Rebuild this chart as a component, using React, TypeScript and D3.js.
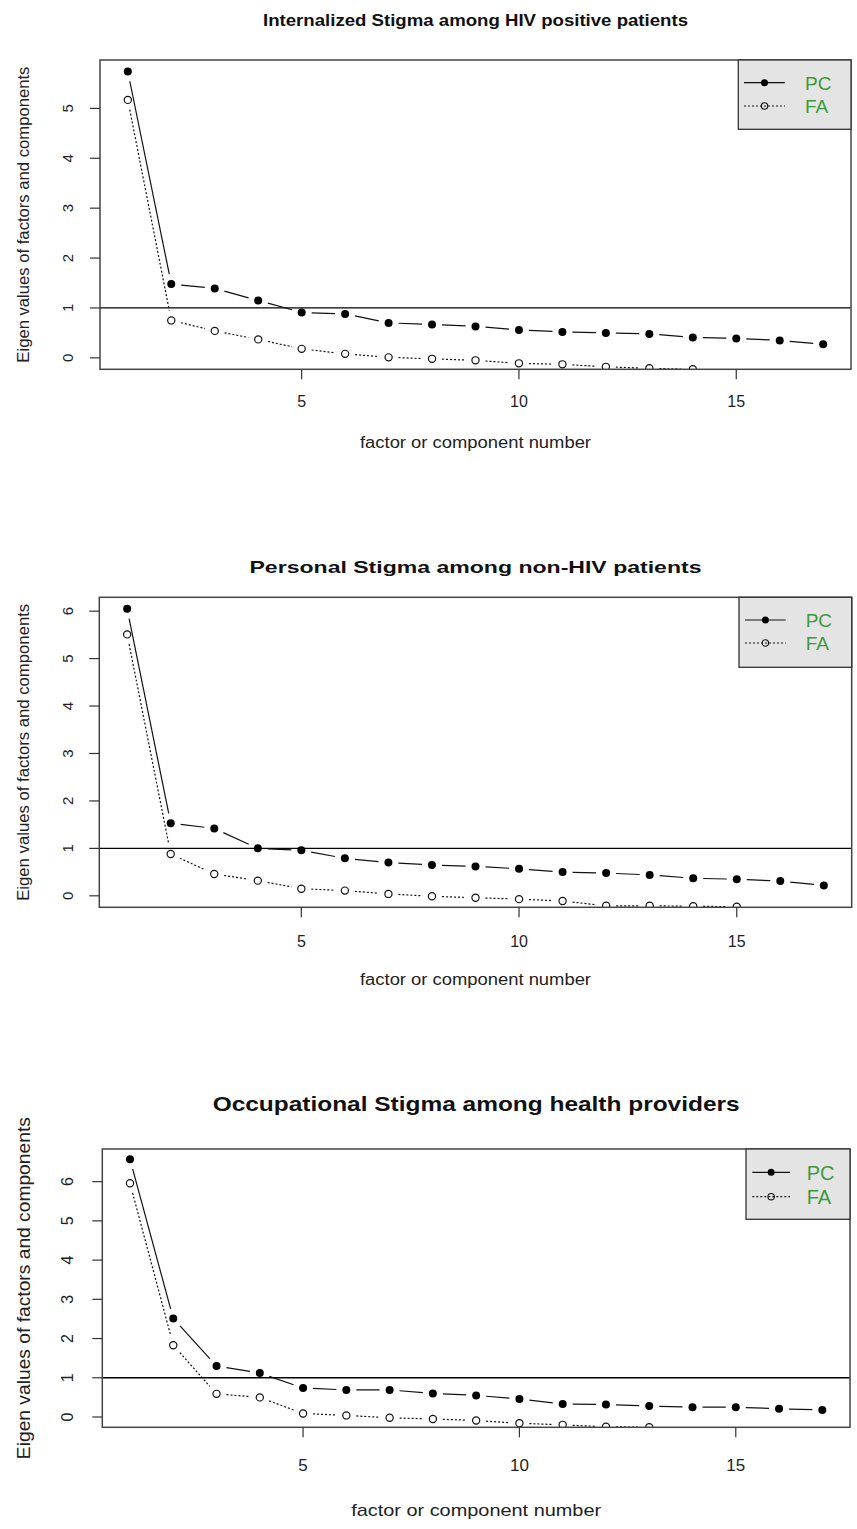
import React from "react";
import * as d3 from "d3";

// Component / factor index shared by all three scree plots
const componentNumbers = [1, 2, 3, 4, 5, 6, 7, 8, 9, 10, 11, 12, 13, 14, 15, 16, 17];
const xTicks = [5, 10, 15];

const xAxisLabel = "factor or component number";
const yAxisLabel = "Eigen values of factors and components";
const legendLabels = ["PC", "FA"];
const eigenCutoff = 1;

// Internalized stigma (HIV positive patients)
const internalizedTitle = "Internalized Stigma among HIV positive patients";
const internalizedPC = [5.74, 1.48, 1.39, 1.15, 0.91, 0.88, 0.7, 0.67, 0.63, 0.56, 0.52, 0.5, 0.48, 0.41, 0.39, 0.35, 0.27];
const internalizedFA = [5.17, 0.75, 0.54, 0.37, 0.18, 0.08, 0.01, -0.02, -0.05, -0.11, -0.13, -0.18, -0.21, -0.23];
const internalizedYTicks = [0, 1, 2, 3, 4, 5];

// Personal stigma (non-HIV patients)
const personalTitle = "Personal Stigma among non-HIV patients";
const personalPC = [6.05, 1.53, 1.42, 1.0, 0.96, 0.79, 0.7, 0.65, 0.62, 0.57, 0.5, 0.48, 0.44, 0.37, 0.35, 0.31, 0.22];
const personalFA = [5.51, 0.88, 0.46, 0.32, 0.15, 0.11, 0.04, -0.01, -0.04, -0.07, -0.11, -0.21, -0.21, -0.22, -0.23];
const personalYTicks = [0, 1, 2, 3, 4, 5, 6];

// Occupational stigma (health providers)
const occupationalTitle = "Occupational Stigma among health providers";
const occupationalPC = [6.57, 2.51, 1.3, 1.12, 0.74, 0.69, 0.69, 0.6, 0.55, 0.46, 0.33, 0.32, 0.28, 0.25, 0.25, 0.21, 0.18];
const occupationalFA = [5.96, 1.83, 0.59, 0.5, 0.09, 0.04, -0.02, -0.05, -0.09, -0.16, -0.2, -0.25, -0.26];
const occupationalYTicks = [0, 1, 2, 3, 4, 5, 6];

type Frame = {
  left: number;
  right: number;
  top: number;
  bottom: number;
  titleY: number;
  titleSize: number;
  titleLength: number;
  tickLabelY: number;
  tickSize: number;
  yTickSize: number;
  xLabelY: number;
  xLabelSize: number;
  xLabelLength: number;
  yLabelX: number;
  yLabelSize: number;
  yLabelLength: number;
  yTickLabelX: number;
  legendLeft: number;
  legendBottom: number;
  legendLineX0: number;
  legendLineX1: number;
  legendRows: number[];
  legendTextX: number;
  legendSize: number;
};

type PanelSpec = {
  title: string;
  pc: number[];
  fa: number[];
  yTicks: number[];
  frame: Frame;
};

const panels: PanelSpec[] = [
  {
    title: internalizedTitle,
    pc: internalizedPC,
    fa: internalizedFA,
    yTicks: internalizedYTicks,
    frame: {
      left: 100, right: 851, top: 60, bottom: 369.3,
      titleY: 26, titleSize: 17, titleLength: 425,
      tickLabelY: 407, tickSize: 16, yTickSize: 15,
      xLabelY: 448, xLabelSize: 16, xLabelLength: 231,
      yLabelX: 29, yLabelSize: 16, yLabelLength: 296,
      yTickLabelX: 73,
      legendLeft: 738.3, legendBottom: 129.3,
      legendLineX0: 744, legendLineX1: 785, legendRows: [82.7, 106], legendTextX: 805, legendSize: 19,
    },
  },
  {
    title: personalTitle,
    pc: personalPC,
    fa: personalFA,
    yTicks: personalYTicks,
    frame: {
      left: 99.3, right: 851.7, top: 597.3, bottom: 907.3,
      titleY: 573, titleSize: 17, titleLength: 452,
      tickLabelY: 947, tickSize: 16, yTickSize: 15,
      xLabelY: 985, xLabelSize: 16, xLabelLength: 231,
      yLabelX: 29, yLabelSize: 16, yLabelLength: 297,
      yTickLabelX: 73,
      legendLeft: 739, legendBottom: 667.3,
      legendLineX0: 745, legendLineX1: 785.7, legendRows: [620, 643], legendTextX: 805.7, legendSize: 19,
    },
  },
  {
    title: occupationalTitle,
    pc: occupationalPC,
    fa: occupationalFA,
    yTicks: occupationalYTicks,
    frame: {
      left: 102.3, right: 850, top: 1149, bottom: 1427.3,
      titleY: 1111, titleSize: 21, titleLength: 527,
      tickLabelY: 1471, tickSize: 17, yTickSize: 16,
      xLabelY: 1516, xLabelSize: 17, xLabelLength: 250,
      yLabelX: 30, yLabelSize: 18, yLabelLength: 342,
      yTickLabelX: 73,
      legendLeft: 746, legendBottom: 1219.3,
      legendLineX0: 752.3, legendLineX1: 790, legendRows: [1172.3, 1196.7], legendTextX: 806.7, legendSize: 20,
    },
  },
];

const FONT = "'Liberation Sans', Arial, Helvetica, sans-serif";
const GAP = 10;

// Segments between consecutive points, trimmed around each marker (R's type = "b")
function gappedSegments(pts: [number, number][], gap: number) {
  const segs: { x1: number; y1: number; x2: number; y2: number }[] = [];
  for (let i = 0; i < pts.length - 1; i++) {
    const [ax, ay] = pts[i];
    const [bx, by] = pts[i + 1];
    const dx = bx - ax;
    const dy = by - ay;
    const len = Math.hypot(dx, dy);
    if (len <= 2 * gap) continue;
    const ux = dx / len;
    const uy = dy / len;
    segs.push({ x1: ax + ux * gap, y1: ay + uy * gap, x2: bx - ux * gap, y2: by - uy * gap });
  }
  return segs;
}

function ScreePanel({ spec, index }: { spec: PanelSpec; index: number }) {
  const f = spec.frame;
  const xMin = d3.min(componentNumbers) as number;
  const xMax = d3.max(componentNumbers) as number;
  const xPad = (xMax - xMin) * 0.04;
  const x = d3.scaleLinear().domain([xMin - xPad, xMax + xPad]).range([f.left, f.right]);
  const yMax = d3.max(spec.pc) as number;
  const yPad = yMax * 0.04;
  const y = d3.scaleLinear().domain([-yPad, yMax + yPad]).range([f.bottom, f.top]);

  const pcPts = spec.pc.map((v, i) => [x(componentNumbers[i]), y(v)] as [number, number]);
  const faPts = spec.fa.map((v, i) => [x(componentNumbers[i]), y(v)] as [number, number]);
  const clipId = `plot-clip-${index}`;
  const midX = (f.left + f.right) / 2;
  const midY = (f.top + f.bottom) / 2;

  return (
    <g>
      <defs>
        <clipPath id={clipId}>
          <rect x={f.left} y={f.top} width={f.right - f.left} height={f.bottom - f.top} />
        </clipPath>
      </defs>

      <text
        x={midX}
        y={f.titleY}
        textAnchor="middle"
        fontFamily={FONT}
        fontWeight="bold"
        fontSize={f.titleSize}
        textLength={f.titleLength}
        lengthAdjust="spacingAndGlyphs"
        fill="#111"
      >
        {spec.title}
      </text>

      <g clipPath={`url(#${clipId})`}>
        <line x1={f.left} x2={f.right} y1={y(eigenCutoff)} y2={y(eigenCutoff)} stroke="#000" strokeWidth={1.3} />
        {gappedSegments(pcPts, GAP).map((s, i) => (
          <line key={`pcs${i}`} {...s} stroke="#111" strokeWidth={1.2} />
        ))}
        {gappedSegments(faPts, GAP).map((s, i) => (
          <line key={`fas${i}`} {...s} stroke="#111" strokeWidth={1.2} strokeDasharray="2,2" />
        ))}
        {pcPts.map(([px, py], i) => (
          <circle key={`pc${i}`} cx={px} cy={py} r={4} fill="#000" />
        ))}
        {faPts.map(([px, py], i) => (
          <circle key={`fa${i}`} cx={px} cy={py} r={3.6} fill="#fff" stroke="#111" strokeWidth={1.2} />
        ))}
      </g>

      <rect
        x={f.left}
        y={f.top}
        width={f.right - f.left}
        height={f.bottom - f.top}
        fill="none"
        stroke="#444"
        strokeWidth={1.5}
      />

      {/* x axis */}
      {xTicks.map((t) => (
        <g key={`xt${t}`}>
          <line x1={x(t)} x2={x(t)} y1={f.bottom} y2={f.bottom + 10} stroke="#333" strokeWidth={1.2} />
          <text x={x(t)} y={f.tickLabelY} textAnchor="middle" fontFamily={FONT} fontSize={f.tickSize} fill="#222">
            {t}
          </text>
        </g>
      ))}
      <text
        x={midX}
        y={f.xLabelY}
        textAnchor="middle"
        fontFamily={FONT}
        fontSize={f.xLabelSize}
        textLength={f.xLabelLength}
        lengthAdjust="spacingAndGlyphs"
        fill="#222"
      >
        {xAxisLabel}
      </text>

      {/* y axis */}
      {spec.yTicks.map((t) => (
        <g key={`yt${t}`}>
          <line x1={f.left - 10} x2={f.left} y1={y(t)} y2={y(t)} stroke="#333" strokeWidth={1.2} />
          <text
            transform={`translate(${f.yTickLabelX},${y(t)}) rotate(-90)`}
            textAnchor="middle"
            fontFamily={FONT}
            fontSize={f.yTickSize}
            fill="#222"
          >
            {t}
          </text>
        </g>
      ))}
      <text
        transform={`translate(${f.yLabelX},${midY}) rotate(-90)`}
        textAnchor="middle"
        fontFamily={FONT}
        fontSize={f.yLabelSize}
        textLength={f.yLabelLength}
        lengthAdjust="spacingAndGlyphs"
        fill="#222"
      >
        {yAxisLabel}
      </text>

      {/* legend */}
      <rect
        x={f.legendLeft}
        y={f.top}
        width={f.right - f.legendLeft}
        height={f.legendBottom - f.top}
        fill="#e4e4e4"
        stroke="#333"
        strokeWidth={1.3}
      />
      {legendLabels.map((lab, i) => {
        const ry = f.legendRows[i];
        const mx = (f.legendLineX0 + f.legendLineX1) / 2;
        return (
          <g key={lab}>
            <line
              x1={f.legendLineX0}
              x2={f.legendLineX1}
              y1={ry}
              y2={ry}
              stroke="#111"
              strokeWidth={1.2}
              strokeDasharray={i === 0 ? undefined : "2,2"}
            />
            {i === 0 ? (
              <circle cx={mx} cy={ry} r={3.5} fill="#000" />
            ) : (
              <circle cx={mx} cy={ry} r={3.2} fill="none" stroke="#111" strokeWidth={1.1} />
            )}
            <text
              x={f.legendTextX}
              y={ry + f.legendSize * 0.36}
              fontFamily={FONT}
              fontSize={f.legendSize}
              fill="#3c9a3c"
            >
              {lab}
            </text>
          </g>
        );
      })}
    </g>
  );
}

export default function App() {
  return (
    <svg
      width={857}
      height={1529}
      viewBox="0 0 857 1529"
      style={{ position: "absolute", left: 0, top: 0, background: "#fff" }}
    >
      <rect x={0} y={0} width={857} height={1529} fill="#fff" />
      {panels.map((p, i) => (
        <ScreePanel key={i} spec={p} index={i} />
      ))}
    </svg>
  );
}
